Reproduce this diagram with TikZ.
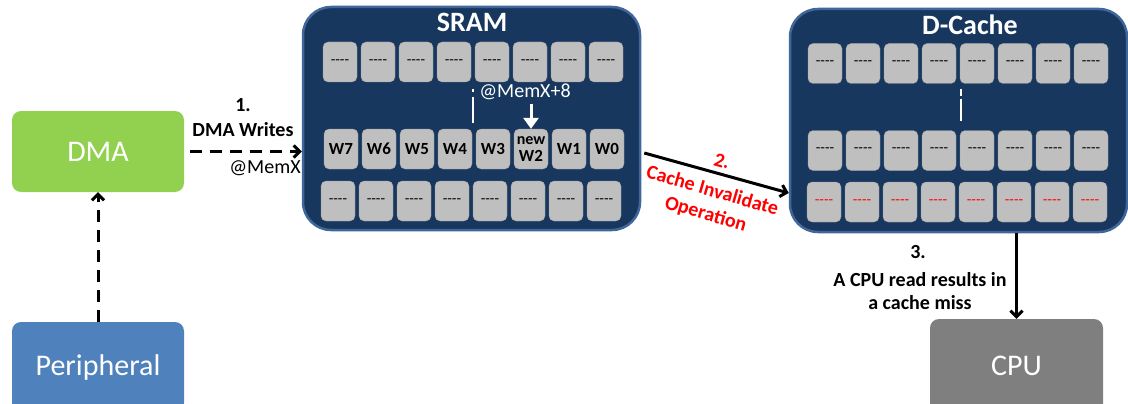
\documentclass[tikz,border=0pt]{standalone}
\usepackage{fontspec}
\setmainfont{Carlito}
\usetikzlibrary{arrows.meta,calc}

\definecolor{dmagreen}{HTML}{92D050}
\definecolor{periblue}{HTML}{4F81BD}
\definecolor{cpugray}{HTML}{7F7F7F}
\definecolor{cellgray}{HTML}{BFBFBF}
\definecolor{memnavy}{HTML}{17375E}
\definecolor{memedge}{HTML}{41679A}
\definecolor{opred}{HTML}{FF0000}

\newcommand{\fs}[2][]{\fontsize{#2}{\ifx\relax#1\relax #2\else #1\fi}\selectfont}

\tikzset{
  unitbox/.style={rounded corners=9pt, inner sep=0pt, text=white,
    font=\fs{30}, minimum width=172pt},
  memblock/.style={fill=memnavy, draw=memedge, line width=2.5pt,
    rounded corners=28pt, inner sep=0pt},
  memtitle/.style={text=white, font=\bfseries\fs{28}, inner sep=0pt},
  cell/.style={fill=cellgray, draw=cellgray!80!black, line width=0.3pt,
    rounded corners=5pt, minimum width=34pt, minimum height=40pt,
    inner sep=0pt, font=\fs{15}},
  wordcell/.style={cell, font=\bfseries\fs{17}, align=center},
  steplabel/.style={font=\bfseries\fs[24]{20}, inner sep=0pt, align=center},
  addrlabel/.style={font=\fs{20}, inner sep=0pt},
  dasharrow/.style={black, line width=3pt, dash pattern=on 12pt off 8pt,
    -{Straight Barb[length=6pt,width=12pt,line width=3pt]}},
  solidarrow/.style={black, line width=3pt,
    -{Straight Barb[length=6pt,width=12pt,line width=3pt]}},
  rowgap/.style={white, line width=2.5pt},
}

% four separate hyphens (no en-dash ligature)
\newcommand{\emptyword}{\raisebox{-4pt}{-{}-{}-{}-}}

\begin{document}
\begin{tikzpicture}[x=1pt,y=-1pt]
\clip (0,0) rectangle (1128,404);
\useasboundingbox (0,0) rectangle (1128,404);

% --- units outside the memories
\node[unitbox, fill=dmagreen, minimum height=81pt] (dma) at (98,151.5) {DMA};
\node[unitbox, fill=periblue, minimum height=90pt] (peri) at (98,367) {Peripheral};
\node[unitbox, fill=cpugray, minimum width=173pt, minimum height=94pt] (cpu) at (1016.5,366) {CPU};

% --- SRAM
\node[memblock, minimum width=337pt, minimum height=223pt] (sram) at (471.5,118.5) {};
\node[memtitle] at (472,22) {SRAM};
\foreach \i in {0,...,7} {
  \node[cell] (sa\i) at ({340+38*\i},62) {\emptyword};
  \node[cell] (sc\i) at ({338+38*\i},201) {\emptyword};
}
\foreach \t [count=\k from 0] in {W7,W6,W5,W4,W3,{\fs[18]{16}new\\W2},W1,W0} {
  \node[wordcell] (sb\k) at ({341+38*\k},149) {\t};
}
\coordinate (sgapTop) at (473,89);
\coordinate (sgapBot) at (473,123);
\draw[rowgap, dash pattern=on 3pt off 5pt on 30pt] (sgapTop) -- (sgapBot);
\coordinate (newaddr) at (531,104);
\draw[white, line width=3pt, -{Triangle[length=11pt,width=15pt]}] (newaddr) -- (sb5.north);
\node[addrlabel, text=white] at (525,92) {@MemX+8};

% --- D-Cache
\node[memblock, minimum width=337pt, minimum height=223pt] (dcache) at (958.5,120.5) {};
\node[memtitle] at (970,25) {D-Cache};
\foreach \i in {0,...,7} {
  \node[cell] (da\i) at ({825+38*\i},63.5) {\emptyword};
  \node[cell] (db\i) at ({825+38*\i},150.5) {\emptyword};
  \node[cell, text=opred] (dc\i) at ({824+38*\i},202) {\emptyword};
}
\coordinate (dgapTop) at (961,89);
\coordinate (dgapBot) at (961,121);
\draw[rowgap, dash pattern=on 7pt off 3pt on 30pt] (dgapTop) -- (dgapBot);

% --- step 1: DMA writes into SRAM
\draw[dasharrow] ([xshift=6pt]dma.east) -- (dma.east -| sram.west);
\node[steplabel] at (243,105) {1.};
\node[steplabel] at (243,130) {DMA Writes};
\node[addrlabel] at (265,168) {@MemX};
\draw[dasharrow] (peri.north) -- (dma.south);

% --- step 2: cache invalidate
\draw[solidarrow] ([yshift=-34.5pt,xshift=3pt]sram.east) -- ([yshift=-72.5pt]dcache.west);
\node[steplabel, text=opred, rotate=-16] at (722,161) {2.};
\node[steplabel, text=opred, rotate=-16] at (709,203) {Cache Invalidate\\Operation};

% --- step 3: CPU read misses
\draw[solidarrow] (dcache.south -| cpu.north) -- (cpu.north);
\node[steplabel] at (918,252) {3.};
\node[steplabel] at (920,280) {A CPU read results in};
\node[steplabel] at (920,303) {a cache miss};
\end{tikzpicture}
\end{document}
